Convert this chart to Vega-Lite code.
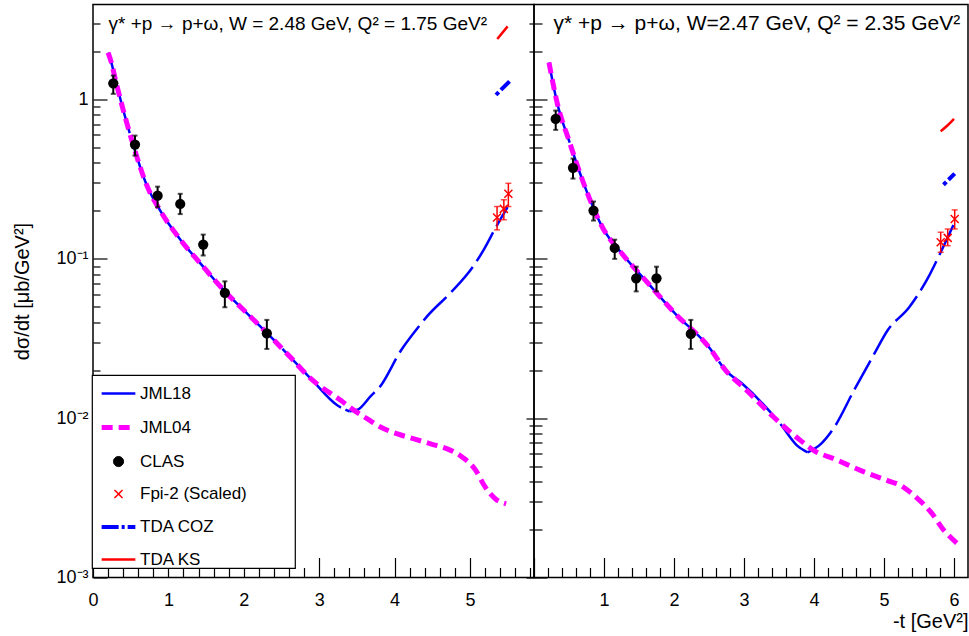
{
  "$schema": "https://vega.github.io/schema/vega-lite/v6.json",
  "background": "white",
  "padding": {"left": 12, "top": 3.5, "right": 0, "bottom": 0},
  "config": {
    "font": "Liberation Sans",
    "view": {"stroke": "black", "strokeWidth": 1.5},
    "axis": {"grid": false, "domain": false, "tickColor": "black", "tickWidth": 1.2, "labelColor": "black", "labelFont": "Liberation Sans", "labelFontSize": 18, "labelFlush": false, "labelOverlap": false, "labelBound": false, "titleFont": "Liberation Sans", "titleFontWeight": "normal", "titleColor": "black"},
    "legend": {"labelFont": "Liberation Sans", "labelFontSize": 17, "labelColor": "black", "fillColor": "white", "strokeColor": "black", "strokeWidth": 1.2, "padding": 0, "symbolOffset": 7, "labelOffset": 2, "rowPadding": 6, "symbolSize": 1136}
  },
  "datasets": {
    "curves": [
      {"p": "L", "s": "JML18a", "t": 0.20, "v": 1.97}, {"p": "L", "s": "JML18a", "t": 0.24, "v": 1.73}, {"p": "L", "s": "JML18a", "t": 0.31, "v": 1.26}, {"p": "L", "s": "JML18a", "t": 0.52, "v": 0.545}, {"p": "L", "s": "JML18a", "t": 0.725, "v": 0.281}, {"p": "L", "s": "JML18a", "t": 0.88, "v": 0.205}, {"p": "L", "s": "JML18a", "t": 1.17, "v": 0.130}, {"p": "L", "s": "JML18a", "t": 1.43, "v": 0.093}, {"p": "L", "s": "JML18a", "t": 1.74, "v": 0.0632}, {"p": "L", "s": "JML18a", "t": 2.05, "v": 0.0452}, {"p": "L", "s": "JML18a", "t": 2.32, "v": 0.0338}, {"p": "L", "s": "JML18a", "t": 2.62, "v": 0.0241}, {"p": "L", "s": "JML18a", "t": 2.89, "v": 0.0177}, {"p": "L", "s": "JML18a", "t": 3.245, "v": 0.0120}, {"p": "L", "s": "JML18a", "t": 3.40, "v": 0.01105},
      {"p": "L", "s": "JML18b", "t": 3.40, "v": 0.01105}, {"p": "L", "s": "JML18b", "t": 3.51, "v": 0.0113}, {"p": "L", "s": "JML18b", "t": 3.69, "v": 0.01387}, {"p": "L", "s": "JML18b", "t": 3.80, "v": 0.0156}, {"p": "L", "s": "JML18b", "t": 4.085, "v": 0.0266}, {"p": "L", "s": "JML18b", "t": 4.28, "v": 0.0355}, {"p": "L", "s": "JML18b", "t": 4.44, "v": 0.044}, {"p": "L", "s": "JML18b", "t": 4.75, "v": 0.0617}, {"p": "L", "s": "JML18b", "t": 5.035, "v": 0.0886}, {"p": "L", "s": "JML18b", "t": 5.19, "v": 0.1155}, {"p": "L", "s": "JML18b", "t": 5.345, "v": 0.158}, {"p": "L", "s": "JML18b", "t": 5.50, "v": 0.211},
      {"p": "L", "s": "JML04", "t": 0.20, "v": 1.97}, {"p": "L", "s": "JML04", "t": 0.24, "v": 1.73}, {"p": "L", "s": "JML04", "t": 0.31, "v": 1.26}, {"p": "L", "s": "JML04", "t": 0.52, "v": 0.545}, {"p": "L", "s": "JML04", "t": 0.725, "v": 0.281}, {"p": "L", "s": "JML04", "t": 0.88, "v": 0.205}, {"p": "L", "s": "JML04", "t": 1.17, "v": 0.130}, {"p": "L", "s": "JML04", "t": 1.43, "v": 0.093}, {"p": "L", "s": "JML04", "t": 1.74, "v": 0.0632}, {"p": "L", "s": "JML04", "t": 2.05, "v": 0.0452}, {"p": "L", "s": "JML04", "t": 2.32, "v": 0.0338}, {"p": "L", "s": "JML04", "t": 2.62, "v": 0.0241}, {"p": "L", "s": "JML04", "t": 2.89, "v": 0.0177}, {"p": "L", "s": "JML04", "t": 3.29, "v": 0.0129}, {"p": "L", "s": "JML04", "t": 3.44, "v": 0.0114}, {"p": "L", "s": "JML04", "t": 3.64, "v": 0.0099}, {"p": "L", "s": "JML04", "t": 3.82, "v": 0.00877}, {"p": "L", "s": "JML04", "t": 4.04, "v": 0.00796}, {"p": "L", "s": "JML04", "t": 4.26, "v": 0.00741}, {"p": "L", "s": "JML04", "t": 4.48, "v": 0.0069}, {"p": "L", "s": "JML04", "t": 4.70, "v": 0.00642}, {"p": "L", "s": "JML04", "t": 4.90, "v": 0.00569}, {"p": "L", "s": "JML04", "t": 5.08, "v": 0.00469}, {"p": "L", "s": "JML04", "t": 5.19, "v": 0.00378}, {"p": "L", "s": "JML04", "t": 5.34, "v": 0.00311}, {"p": "L", "s": "JML04", "t": 5.48, "v": 0.0029},
      {"p": "L", "s": "COZ", "t": 5.345, "v": 1.07}, {"p": "L", "s": "COZ", "t": 5.525, "v": 1.30},
      {"p": "L", "s": "KS", "t": 5.363, "v": 2.40}, {"p": "L", "s": "KS", "t": 5.50, "v": 2.88},
      {"p": "R", "s": "JML18a", "t": 0.214, "v": 1.71}, {"p": "R", "s": "JML18a", "t": 0.334, "v": 0.94}, {"p": "R", "s": "JML18a", "t": 0.50, "v": 0.553}, {"p": "R", "s": "JML18a", "t": 0.739, "v": 0.275}, {"p": "R", "s": "JML18a", "t": 0.977, "v": 0.158}, {"p": "R", "s": "JML18a", "t": 1.263, "v": 0.107}, {"p": "R", "s": "JML18a", "t": 1.596, "v": 0.0731}, {"p": "R", "s": "JML18a", "t": 2.02, "v": 0.0452}, {"p": "R", "s": "JML18a", "t": 2.50, "v": 0.0279}, {"p": "R", "s": "JML18a", "t": 2.74, "v": 0.0199}, {"p": "R", "s": "JML18a", "t": 2.98, "v": 0.0164}, {"p": "R", "s": "JML18a", "t": 3.52, "v": 0.0092}, {"p": "R", "s": "JML18a", "t": 3.76, "v": 0.00673}, {"p": "R", "s": "JML18a", "t": 3.91, "v": 0.0061},
      {"p": "R", "s": "JML18b", "t": 3.91, "v": 0.0061}, {"p": "R", "s": "JML18b", "t": 4.10, "v": 0.0069}, {"p": "R", "s": "JML18b", "t": 4.29, "v": 0.00877}, {"p": "R", "s": "JML18b", "t": 4.57, "v": 0.0149}, {"p": "R", "s": "JML18b", "t": 4.86, "v": 0.0253}, {"p": "R", "s": "JML18b", "t": 5.05, "v": 0.0355}, {"p": "R", "s": "JML18b", "t": 5.36, "v": 0.0497}, {"p": "R", "s": "JML18b", "t": 5.62, "v": 0.0748}, {"p": "R", "s": "JML18b", "t": 5.81, "v": 0.110}, {"p": "R", "s": "JML18b", "t": 6.0, "v": 0.166},
      {"p": "R", "s": "JML04", "t": 0.214, "v": 1.71}, {"p": "R", "s": "JML04", "t": 0.334, "v": 0.94}, {"p": "R", "s": "JML04", "t": 0.50, "v": 0.553}, {"p": "R", "s": "JML04", "t": 0.739, "v": 0.275}, {"p": "R", "s": "JML04", "t": 0.977, "v": 0.158}, {"p": "R", "s": "JML04", "t": 1.263, "v": 0.107}, {"p": "R", "s": "JML04", "t": 1.596, "v": 0.0731}, {"p": "R", "s": "JML04", "t": 2.02, "v": 0.0452}, {"p": "R", "s": "JML04", "t": 2.50, "v": 0.0279}, {"p": "R", "s": "JML04", "t": 2.74, "v": 0.0199}, {"p": "R", "s": "JML04", "t": 3.0, "v": 0.0155}, {"p": "R", "s": "JML04", "t": 3.43, "v": 0.0101}, {"p": "R", "s": "JML04", "t": 3.81, "v": 0.00723}, {"p": "R", "s": "JML04", "t": 4.0, "v": 0.00626}, {"p": "R", "s": "JML04", "t": 4.29, "v": 0.00555}, {"p": "R", "s": "JML04", "t": 4.67, "v": 0.00469}, {"p": "R", "s": "JML04", "t": 5.05, "v": 0.00406}, {"p": "R", "s": "JML04", "t": 5.24, "v": 0.00378}, {"p": "R", "s": "JML04", "t": 5.43, "v": 0.00327}, {"p": "R", "s": "JML04", "t": 5.67, "v": 0.00257}, {"p": "R", "s": "JML04", "t": 5.86, "v": 0.00197}, {"p": "R", "s": "JML04", "t": 6.05, "v": 0.00163},
      {"p": "R", "s": "COZ", "t": 5.85, "v": 0.292}, {"p": "R", "s": "COZ", "t": 6.01, "v": 0.343},
      {"p": "R", "s": "KS", "t": 5.81, "v": 0.632}, {"p": "R", "s": "KS", "t": 5.906, "v": 0.687}, {"p": "R", "s": "KS", "t": 6.0, "v": 0.757}
    ],
    "clas": [
      {"p": "L", "t": 0.269, "v": 1.265, "lo": 1.086, "hi": 1.415}, {"p": "L", "t": 0.557, "v": 0.522, "lo": 0.445, "hi": 0.594}, {"p": "L", "t": 0.857, "v": 0.249, "lo": 0.211, "hi": 0.284}, {"p": "L", "t": 1.157, "v": 0.221, "lo": 0.191, "hi": 0.256}, {"p": "L", "t": 1.462, "v": 0.123, "lo": 0.105, "hi": 0.142}, {"p": "L", "t": 1.749, "v": 0.0612, "lo": 0.0497, "hi": 0.0723}, {"p": "L", "t": 2.306, "v": 0.0341, "lo": 0.0272, "hi": 0.0414},
      {"p": "R", "t": 0.31, "v": 0.756, "lo": 0.645, "hi": 0.853}, {"p": "R", "t": 0.557, "v": 0.373, "lo": 0.319, "hi": 0.426}, {"p": "R", "t": 0.85, "v": 0.201, "lo": 0.174, "hi": 0.229}, {"p": "R", "t": 1.153, "v": 0.117, "lo": 0.100, "hi": 0.132}, {"p": "R", "t": 1.46, "v": 0.0755, "lo": 0.0625, "hi": 0.0893}, {"p": "R", "t": 1.75, "v": 0.0755, "lo": 0.0625, "hi": 0.0893}, {"p": "R", "t": 2.24, "v": 0.0338, "lo": 0.0272, "hi": 0.0414}
    ],
    "fpi": [
      {"p": "L", "t": 5.36, "v": 0.182, "lo": 0.152, "hi": 0.213}, {"p": "L", "t": 5.45, "v": 0.206, "lo": 0.176, "hi": 0.235}, {"p": "L", "t": 5.51, "v": 0.256, "lo": 0.213, "hi": 0.298},
      {"p": "R", "t": 5.81, "v": 0.127, "lo": 0.110, "hi": 0.147}, {"p": "R", "t": 5.91, "v": 0.1355, "lo": 0.121, "hi": 0.154}, {"p": "R", "t": 6.01, "v": 0.178, "lo": 0.154, "hi": 0.203}
    ],
    "legendrows": [
      {"series": "JML18"}, {"series": "JML04"}, {"series": "CLAS"}, {"series": "Fpi-2 (Scaled)"}, {"series": "TDA COZ"}, {"series": "TDA KS"}
    ]
  },
  "bounds": "flush",
  "spacing": 0,
  "resolve": {
    "scale": {"x": "independent", "y": "independent"},
    "legend": {"stroke": "independent", "fill": "independent", "shape": "independent", "strokeDash": "independent", "strokeWidth": "independent"}
  },
  "hconcat": [
    {
      "width": 441,
      "height": 573,
      "resolve": {"axis": {"x": "independent", "y": "independent"}},
      "layer": [
        {
          "data": {"name": "curves"},
          "transform": [{"filter": "datum.p == 'L' && datum.s == 'JML18a'"}],
          "mark": {"type": "line", "color": "#0000ff", "strokeWidth": 2.5, "strokeDash": [83, 5], "interpolate": "monotone"},
          "encoding": {
            "x": {"field": "t", "type": "quantitative", "scale": {"domain": [0, 5.85], "nice": false, "zero": false},
              "axis": {"orient": "bottom", "title": null, "values": [0, 1, 2, 3, 4, 5], "format": "d", "tickSize": -20, "labelPadding": 34}},
            "y": {"field": "v", "type": "quantitative", "scale": {"type": "log", "domain": [0.001, 3.95], "nice": false},
              "axis": {"orient": "left", "title": "dσ/dt [μb/GeV²]", "titleFontSize": 20, "titlePadding": 23,
                "values": [0.001, 0.01, 0.1, 1],
                "labelExpr": "datum.value == 1 ? '1' : datum.value == 0.1 ? '10⁻¹' : datum.value == 0.01 ? '10⁻²' : '10⁻³'",
                "tickSize": -14, "labelPadding": 19}}
          }
        },
        {
          "data": {"name": "curves"},
          "transform": [{"filter": "datum.p == 'L' && datum.s == 'JML18b'"}],
          "mark": {"type": "line", "color": "#0000ff", "strokeWidth": 2.5, "strokeDash": [33, 7], "interpolate": "monotone"},
          "encoding": {
            "x": {"field": "t", "type": "quantitative", "scale": {"domain": [0, 5.85], "nice": false, "zero": false},
              "axis": {"orient": "bottom", "title": null, "labels": false, "tickSize": -10,
                "values": [0.2, 0.4, 0.6, 0.8, 1.2, 1.4, 1.6, 1.8, 2.2, 2.4, 2.6, 2.8, 3.2, 3.4, 3.6, 3.8, 4.2, 4.4, 4.6, 4.8, 5.2, 5.4, 5.6, 5.8]}},
            "y": {"field": "v", "type": "quantitative", "scale": {"type": "log", "domain": [0.001, 3.95], "nice": false},
              "axis": {"orient": "left", "title": null, "labels": false, "tickSize": -7,
                "values": [0.002, 0.003, 0.004, 0.005, 0.006, 0.007, 0.008, 0.009, 0.02, 0.03, 0.04, 0.05, 0.06, 0.07, 0.08, 0.09, 0.2, 0.3, 0.4, 0.5, 0.6, 0.7, 0.8, 0.9, 2, 3]}}
          }
        },
        {
          "data": {"name": "curves"},
          "transform": [{"filter": "datum.p == 'L' && datum.s == 'JML04'"}],
          "mark": {"type": "line", "color": "#ff00ff", "strokeWidth": 5, "strokeDash": [11, 6], "interpolate": "monotone"},
          "encoding": {
            "x": {"field": "t", "type": "quantitative", "scale": {"domain": [0, 5.85], "nice": false, "zero": false}, "axis": null},
            "y": {"field": "v", "type": "quantitative", "scale": {"type": "log", "domain": [0.001, 3.95], "nice": false},
              "axis": {"orient": "right", "title": null, "labels": false, "tickSize": -8, "values": [0.001, 0.01, 0.1, 1]}}
          }
        },
        {
          "data": {"name": "curves"},
          "transform": [{"filter": "datum.p == 'L' && datum.s == 'COZ'"}],
          "mark": {"type": "line", "color": "#0000ff", "strokeWidth": 4, "strokeDash": [4, 3, 17, 3]},
          "encoding": {
            "x": {"field": "t", "type": "quantitative", "scale": {"domain": [0, 5.85], "nice": false, "zero": false}, "axis": null},
            "y": {"field": "v", "type": "quantitative", "scale": {"type": "log", "domain": [0.001, 3.95], "nice": false},
              "axis": {"orient": "right", "title": null, "labels": false, "tickSize": -5,
                "values": [0.002, 0.003, 0.004, 0.005, 0.006, 0.007, 0.008, 0.009, 0.02, 0.03, 0.04, 0.05, 0.06, 0.07, 0.08, 0.09, 0.2, 0.3, 0.4, 0.5, 0.6, 0.7, 0.8, 0.9, 2, 3]}}
          }
        },
        {
          "data": {"name": "curves"},
          "transform": [{"filter": "datum.p == 'L' && datum.s == 'KS'"}],
          "mark": {"type": "line", "color": "#ff0000", "strokeWidth": 2.5},
          "encoding": {
            "x": {"field": "t", "type": "quantitative", "scale": {"domain": [0, 5.85], "nice": false, "zero": false},
              "axis": {"orient": "top", "ticks": false, "labels": false, "domain": false,
                "title": "γ* +p → p+ω, W = 2.48 GeV, Q² = 1.75 GeV²", "titleX": 15, "titleY": 25, "titleAlign": "left", "titleAnchor": "start", "titleBaseline": "alphabetic", "titleAngle": 0, "titleFontSize": 19}},
            "y": {"field": "v", "type": "quantitative", "scale": {"type": "log", "domain": [0.001, 3.95], "nice": false}, "axis": null}
          }
        },
        {
          "data": {"name": "clas"},
          "transform": [{"filter": "datum.p == 'L'"}],
          "mark": {"type": "errorbar", "ticks": true, "size": 5, "thickness": 2, "color": "black"},
          "encoding": {
            "x": {"field": "t", "type": "quantitative", "scale": {"domain": [0, 5.85], "nice": false, "zero": false}, "axis": null},
            "y": {"field": "lo", "type": "quantitative", "scale": {"type": "log", "domain": [0.001, 3.95], "nice": false}, "axis": null},
            "y2": {"field": "hi"}
          }
        },
        {
          "data": {"name": "clas"},
          "transform": [{"filter": "datum.p == 'L'"}],
          "mark": {"type": "point", "shape": "circle", "filled": true, "size": 105, "color": "black", "opacity": 1},
          "encoding": {
            "x": {"field": "t", "type": "quantitative", "scale": {"domain": [0, 5.85], "nice": false, "zero": false}, "axis": null},
            "y": {"field": "v", "type": "quantitative", "scale": {"type": "log", "domain": [0.001, 3.95], "nice": false}, "axis": null}
          }
        },
        {
          "data": {"name": "fpi"},
          "transform": [{"filter": "datum.p == 'L'"}],
          "mark": {"type": "errorbar", "ticks": true, "size": 6, "thickness": 1.5, "color": "#ff0000"},
          "encoding": {
            "x": {"field": "t", "type": "quantitative", "scale": {"domain": [0, 5.85], "nice": false, "zero": false}, "axis": null},
            "y": {"field": "lo", "type": "quantitative", "scale": {"type": "log", "domain": [0.001, 3.95], "nice": false}, "axis": null},
            "y2": {"field": "hi"}
          }
        },
        {
          "data": {"name": "fpi"},
          "transform": [{"filter": "datum.p == 'L'"}],
          "mark": {"type": "point", "shape": "M-1,-1L1,1M-1,1L1,-1", "filled": false, "size": 64, "color": "#ff0000", "strokeWidth": 1.5, "opacity": 1},
          "encoding": {
            "x": {"field": "t", "type": "quantitative", "scale": {"domain": [0, 5.85], "nice": false, "zero": false}, "axis": null},
            "y": {"field": "v", "type": "quantitative", "scale": {"type": "log", "domain": [0.001, 3.95], "nice": false}, "axis": null}
          }
        },
        {
          "data": {"name": "legendrows"},
          "transform": [{"filter": "false"}],
          "mark": {"type": "point", "opacity": 1},
          "encoding": {
            "stroke": {"field": "series", "type": "nominal",
              "scale": {"domain": ["JML18", "JML04", "CLAS", "Fpi-2 (Scaled)", "TDA COZ", "TDA KS"], "range": ["#0000ff", "#ff00ff", "black", "#ff0000", "#0000ff", "#ff0000"]},
              "legend": {"title": null, "orient": "none", "legendX": -1, "legendY": 370.5, "labelExpr": "datum.label + '\u2800\u2800\u2800\u2800'"}},
            "fill": {"field": "series", "type": "nominal",
              "scale": {"domain": ["JML18", "JML04", "CLAS", "Fpi-2 (Scaled)", "TDA COZ", "TDA KS"], "range": ["transparent", "transparent", "black", "transparent", "transparent", "transparent"]},
              "legend": {"title": null, "orient": "none", "legendX": -1, "legendY": 370.5, "labelExpr": "datum.label + '\u2800\u2800\u2800\u2800'"}},
            "shape": {"field": "series", "type": "nominal",
              "scale": {"domain": ["JML18", "JML04", "CLAS", "Fpi-2 (Scaled)", "TDA COZ", "TDA KS"], "range": ["stroke", "stroke", "M-0.3,0A0.3,0.3,0,1,0,0.3,0A0.3,0.3,0,1,0,-0.3,0Z", "M-0.24,-0.24L0.24,0.24M-0.24,0.24L0.24,-0.24", "stroke", "stroke"]},
              "legend": {"title": null, "orient": "none", "legendX": -1, "legendY": 370.5, "labelExpr": "datum.label + '\u2800\u2800\u2800\u2800'"}},
            "strokeDash": {"field": "series", "type": "nominal",
              "scale": {"domain": ["JML18", "JML04", "CLAS", "Fpi-2 (Scaled)", "TDA COZ", "TDA KS"], "range": [[1, 0], [11, 6], [1, 0], [1, 0], [17, 3, 3, 3], [1, 0]]},
              "legend": {"title": null, "orient": "none", "legendX": -1, "legendY": 370.5, "labelExpr": "datum.label + '\u2800\u2800\u2800\u2800'"}},
            "strokeWidth": {"field": "series", "type": "nominal",
              "scale": {"type": "ordinal", "domain": ["JML18", "JML04", "CLAS", "Fpi-2 (Scaled)", "TDA COZ", "TDA KS"], "range": [2.5, 5, 1, 1.5, 4, 2.5]},
              "legend": {"title": null, "orient": "none", "legendX": -1, "legendY": 370.5, "labelExpr": "datum.label + '\u2800\u2800\u2800\u2800'"}}
          }
        }
      ]
    },
    {
      "width": 434,
      "height": 573,
      "resolve": {"axis": {"x": "independent", "y": "independent"}},
      "layer": [
        {
          "data": {"name": "curves"},
          "transform": [{"filter": "datum.p == 'R' && datum.s == 'JML18a'"}],
          "mark": {"type": "line", "color": "#0000ff", "strokeWidth": 2.5, "strokeDash": [83, 5], "interpolate": "monotone"},
          "encoding": {
            "x": {"field": "t", "type": "quantitative", "scale": {"domain": [0, 6.2], "nice": false, "zero": false},
              "axis": {"orient": "bottom", "title": "-t [GeV²]", "titleFontSize": 20, "titleAnchor": "end", "titlePadding": 2,
                "values": [0, 1, 2, 3, 4, 5, 6], "labelExpr": "datum.value == 0 ? '' : datum.label", "format": "d", "tickSize": -20, "labelPadding": 34}},
            "y": {"field": "v", "type": "quantitative", "scale": {"type": "log", "domain": [0.001, 3.95], "nice": false},
              "axis": {"orient": "left", "title": null, "labels": false, "tickSize": -13, "values": [0.001, 0.01, 0.1, 1]}}
          }
        },
        {
          "data": {"name": "curves"},
          "transform": [{"filter": "datum.p == 'R' && datum.s == 'JML18b'"}],
          "mark": {"type": "line", "color": "#0000ff", "strokeWidth": 2.5, "strokeDash": [33, 7], "interpolate": "monotone"},
          "encoding": {
            "x": {"field": "t", "type": "quantitative", "scale": {"domain": [0, 6.2], "nice": false, "zero": false},
              "axis": {"orient": "bottom", "title": null, "labels": false, "tickSize": -10,
                "values": [0.2, 0.4, 0.6, 0.8, 1.2, 1.4, 1.6, 1.8, 2.2, 2.4, 2.6, 2.8, 3.2, 3.4, 3.6, 3.8, 4.2, 4.4, 4.6, 4.8, 5.2, 5.4, 5.6, 5.8]}},
            "y": {"field": "v", "type": "quantitative", "scale": {"type": "log", "domain": [0.001, 3.95], "nice": false},
              "axis": {"orient": "left", "title": null, "labels": false, "tickSize": -8,
                "values": [0.002, 0.003, 0.004, 0.005, 0.006, 0.007, 0.008, 0.009, 0.02, 0.03, 0.04, 0.05, 0.06, 0.07, 0.08, 0.09, 0.2, 0.3, 0.4, 0.5, 0.6, 0.7, 0.8, 0.9, 2, 3]}}
          }
        },
        {
          "data": {"name": "curves"},
          "transform": [{"filter": "datum.p == 'R' && datum.s == 'JML04'"}],
          "mark": {"type": "line", "color": "#ff00ff", "strokeWidth": 5, "strokeDash": [11, 6], "interpolate": "monotone"},
          "encoding": {
            "x": {"field": "t", "type": "quantitative", "scale": {"domain": [0, 6.2], "nice": false, "zero": false}, "axis": null},
            "y": {"field": "v", "type": "quantitative", "scale": {"type": "log", "domain": [0.001, 3.95], "nice": false}, "axis": null}
          }
        },
        {
          "data": {"name": "curves"},
          "transform": [{"filter": "datum.p == 'R' && datum.s == 'COZ'"}],
          "mark": {"type": "line", "color": "#0000ff", "strokeWidth": 4, "strokeDash": [4, 3, 17, 3]},
          "encoding": {
            "x": {"field": "t", "type": "quantitative", "scale": {"domain": [0, 6.2], "nice": false, "zero": false}, "axis": null},
            "y": {"field": "v", "type": "quantitative", "scale": {"type": "log", "domain": [0.001, 3.95], "nice": false}, "axis": null}
          }
        },
        {
          "data": {"name": "curves"},
          "transform": [{"filter": "datum.p == 'R' && datum.s == 'KS'"}],
          "mark": {"type": "line", "color": "#ff0000", "strokeWidth": 2.5, "interpolate": "monotone"},
          "encoding": {
            "x": {"field": "t", "type": "quantitative", "scale": {"domain": [0, 6.2], "nice": false, "zero": false},
              "axis": {"orient": "top", "ticks": false, "labels": false, "domain": false,
                "title": "γ* +p → p+ω, W=2.47 GeV, Q² = 2.35 GeV²", "titleX": 19, "titleY": 25, "titleAlign": "left", "titleAnchor": "start", "titleBaseline": "alphabetic", "titleAngle": 0, "titleFontSize": 21}},
            "y": {"field": "v", "type": "quantitative", "scale": {"type": "log", "domain": [0.001, 3.95], "nice": false}, "axis": null}
          }
        },
        {
          "data": {"name": "clas"},
          "transform": [{"filter": "datum.p == 'R'"}],
          "mark": {"type": "errorbar", "ticks": true, "size": 5, "thickness": 2, "color": "black"},
          "encoding": {
            "x": {"field": "t", "type": "quantitative", "scale": {"domain": [0, 6.2], "nice": false, "zero": false}, "axis": null},
            "y": {"field": "lo", "type": "quantitative", "scale": {"type": "log", "domain": [0.001, 3.95], "nice": false}, "axis": null},
            "y2": {"field": "hi"}
          }
        },
        {
          "data": {"name": "clas"},
          "transform": [{"filter": "datum.p == 'R'"}],
          "mark": {"type": "point", "shape": "circle", "filled": true, "size": 105, "color": "black", "opacity": 1},
          "encoding": {
            "x": {"field": "t", "type": "quantitative", "scale": {"domain": [0, 6.2], "nice": false, "zero": false}, "axis": null},
            "y": {"field": "v", "type": "quantitative", "scale": {"type": "log", "domain": [0.001, 3.95], "nice": false}, "axis": null}
          }
        },
        {
          "data": {"name": "fpi"},
          "transform": [{"filter": "datum.p == 'R'"}],
          "mark": {"type": "errorbar", "ticks": true, "size": 6, "thickness": 1.5, "color": "#ff0000"},
          "encoding": {
            "x": {"field": "t", "type": "quantitative", "scale": {"domain": [0, 6.2], "nice": false, "zero": false}, "axis": null},
            "y": {"field": "lo", "type": "quantitative", "scale": {"type": "log", "domain": [0.001, 3.95], "nice": false}, "axis": null},
            "y2": {"field": "hi"}
          }
        },
        {
          "data": {"name": "fpi"},
          "transform": [{"filter": "datum.p == 'R'"}],
          "mark": {"type": "point", "shape": "M-1,-1L1,1M-1,1L1,-1", "filled": false, "size": 64, "color": "#ff0000", "strokeWidth": 1.5, "opacity": 1},
          "encoding": {
            "x": {"field": "t", "type": "quantitative", "scale": {"domain": [0, 6.2], "nice": false, "zero": false}, "axis": null},
            "y": {"field": "v", "type": "quantitative", "scale": {"type": "log", "domain": [0.001, 3.95], "nice": false}, "axis": null}
          }
        }
      ]
    }
  ]
}
